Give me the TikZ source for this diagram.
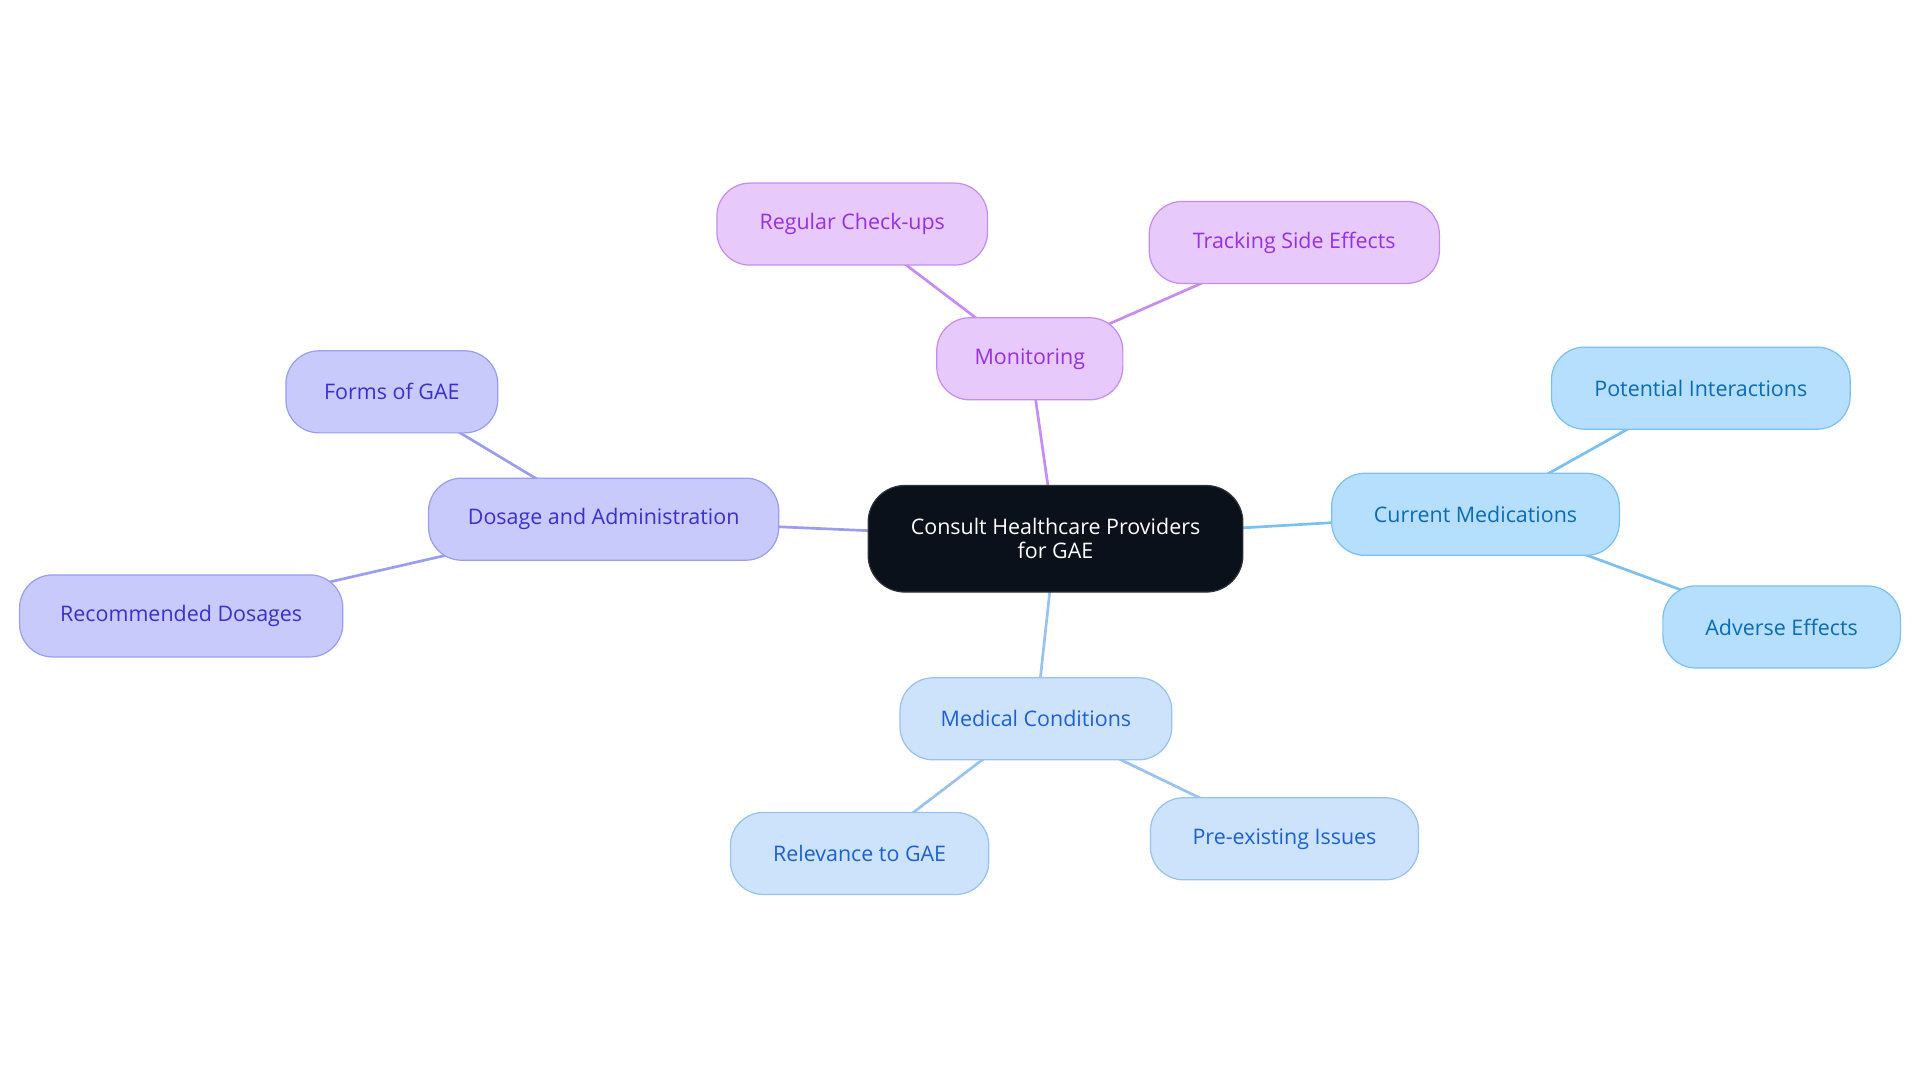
\documentclass[tikz,border=0pt]{standalone}
\usepackage{fontspec}
\setmainfont{Open Sans}
\usetikzlibrary{backgrounds}
\definecolor{cfill}{HTML}{0B111B}
\definecolor{pfill}{HTML}{E8C9FC}
\definecolor{pline}{HTML}{C68CF2}
\definecolor{ptext}{HTML}{9630E0}
\definecolor{bfill}{HTML}{B5DFFD}
\definecolor{bline}{HTML}{7CC0F1}
\definecolor{btext}{HTML}{0B6BB5}
\definecolor{mfill}{HTML}{CDE3FB}
\definecolor{mline}{HTML}{98C2F0}
\definecolor{mtext}{HTML}{1D60D0}
\definecolor{dfill}{HTML}{C8CAFB}
\definecolor{dline}{HTML}{9A9DF0}
\definecolor{dtext}{HTML}{3A30CC}
\tikzset{
  box/.style={rounded corners=27pt, minimum height=67pt, inner xsep=0pt, line width=1pt, font=\fontsize{17.5}{19.5}\selectfont, align=center},
  rootbox/.style={box, fill=cfill, draw=cfill!70!gray, text=white, minimum height=87pt, minimum width=306pt, rounded corners=30pt},
  pbox/.style={box, fill=pfill, draw=pline, text=ptext},
  bbox/.style={box, fill=bfill, draw=bline, text=btext},
  mbox/.style={box, fill=mfill, draw=mline, text=mtext},
  dbox/.style={box, fill=dfill, draw=dline, text=dtext},
  link/.style={line width=2.2pt},
}
\begin{document}
\begin{tikzpicture}[x=1pt,y=-1pt]
\useasboundingbox (0,0) rectangle (1568,884);
\node[rootbox] (root) at (862,440) {Consult Healthcare Providers\\for GAE};
\node[pbox, minimum width=152pt] (mon) at (841,293) {Monitoring};
\node[pbox, minimum width=221pt] (reg) at (696,183) {Regular Check-ups};
\node[pbox, minimum width=237pt] (trk) at (1057,198) {Tracking Side Effects};
\node[bbox, minimum width=235pt] (cur) at (1205,420) {Current Medications};
\node[bbox, minimum width=244pt] (pot) at (1389,317) {Potential Interactions};
\node[bbox, minimum width=194pt] (adv) at (1455,512) {Adverse Effects};
\node[mbox, minimum width=222pt] (med) at (846,587) {Medical Conditions};
\node[mbox, minimum width=211pt] (rel) at (702,697) {Relevance to GAE};
\node[mbox, minimum width=219pt] (pre) at (1049,685) {Pre-existing Issues};
\node[dbox, minimum width=286pt] (dos) at (493,424) {Dosage and Administration};
\node[dbox, minimum width=173pt] (frm) at (320,320) {Forms of GAE};
\node[dbox, minimum width=264pt] (rec) at (148,503) {Recommended Dosages};
\begin{scope}[on background layer]
\draw[link, pline] (root.center) -- (mon.center);
\draw[link, pline] (mon.center) -- (reg.center);
\draw[link, pline] (mon.center) -- (trk.center);
\draw[link, bline] (root.center) -- (cur.center);
\draw[link, bline] (cur.center) -- (pot.center);
\draw[link, bline] (cur.center) -- (adv.center);
\draw[link, mline] (root.center) -- (med.center);
\draw[link, mline] (med.center) -- (rel.center);
\draw[link, mline] (med.center) -- (pre.center);
\draw[link, dline] (root.center) -- (dos.center);
\draw[link, dline] (dos.center) -- (frm.center);
\draw[link, dline] (dos.center) -- (rec.center);
\end{scope}
\end{tikzpicture}
\end{document}
